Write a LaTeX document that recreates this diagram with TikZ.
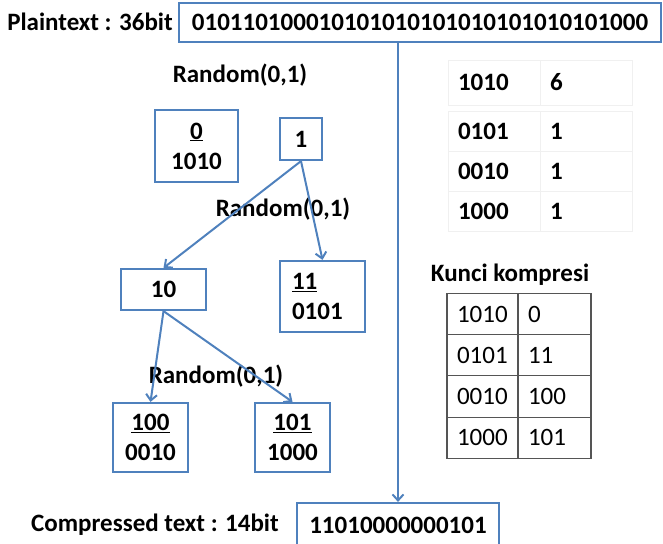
\documentclass[tikz,border=0pt]{standalone}
\usepackage{fontspec}
\setmainfont{Carlito}
\usetikzlibrary{positioning,arrows.meta}
\definecolor{lineblue}{RGB}{79,129,189}
\definecolor{keygray}{RGB}{85,85,85}

\begin{document}
\begin{tikzpicture}[
  x=1pt, y=-1pt,
  every node/.style={font=\fontsize{25}{30}\selectfont\bfseries},
  box/.style={draw=lineblue, line width=2.2pt, inner sep=0pt, align=center},
  arr/.style={draw=lineblue, line width=2pt, -{Straight Barb[length=6pt,width=11pt]}},
  fcell/.style={draw=gray!12, line width=0.8pt, minimum height=40pt, inner xsep=10pt, text width=72pt, align=left},
  kcell/.style={draw=keygray, line width=1.2pt, minimum height=41.25pt, inner xsep=10pt, text width=51pt, align=left, font=\fontsize{25}{30}\selectfont},
]
\useasboundingbox (0,0) rectangle (663,543);

% ── plaintext ──
\node (plainlbl) at (90,22) {Plaintext : 36bit};
\node[box, minimum width=482pt, minimum height=39pt] (plain) at (420,22.5)
  {010110100010101010101010101010101000};

% ── tree ──
\node (rnda) at (240,75) {Random(0,1)};

\node[box, minimum width=83pt, minimum height=72pt] (t0) at (196.5,146) {\underline{0}\\1010};
\node[box, minimum width=42pt, minimum height=42pt] (t1) at (301,139) {1};

\node (rndb) at (283,209) {Random(0,1)};

\node[box, minimum width=85pt, minimum height=41pt] (t10) at (163.5,289.5) {10};
\node[box, minimum width=85pt, minimum height=71pt, align=left, text width=61pt, inner xsep=12pt] (t11) at (322.5,296.5) {\underline{11}\\0101};

\node (rndc) at (216,376) {Random(0,1)};

\node[box, minimum width=75pt, minimum height=69pt] (t100) at (150.5,437.5) {\underline{100}\\0010};
\node[box, minimum width=75pt, minimum height=69pt] (t101) at (292.5,437.5) {\underline{101}\\1000};

\draw[arr] (t1.south)  -- (t10.north);
\draw[arr] (t1.south)  -- (t11.north);
\draw[arr] (t10.south) -- (t100.north);
\draw[arr] (t10.south) -- (t101.north);

% ── frequency table ──
\node[fcell, minimum height=45pt] (fa0) at (494,82.5) {1010};
\node[fcell, minimum height=45pt] (fb0) at (586,82.5) {6};
\foreach \y/\a/\b [count=\i] in {131/0101/1, 171/0010/1, 211/1000/1}{
  \node[fcell] (fa\i) at (494,\y) {\a};
  \node[fcell] (fb\i) at (586,\y) {\b};
}

% ── kunci kompresi ──
\node (keylbl) at (510,275) {Kunci kompresi};
\foreach \y/\a/\b [count=\i] in {314/1010/0, 355.25/0101/11, 396.5/0010/100, 437.75/1000/101}{
  \node[kcell] (ka\i) at (482.5,\y) {\a};
  \node[kcell, text width=53pt] (kb\i) at (554.5,\y) {\b};
}

% ── compressed ──
\node (complbl) at (155,525) {Compressed text : 14bit};
\node[box, minimum width=202pt, minimum height=44pt] (comp) at (398,525) {11010000000101};

\draw[arr] (comp.north |- plain.south) -- (comp.north);

\end{tikzpicture}
\end{document}
